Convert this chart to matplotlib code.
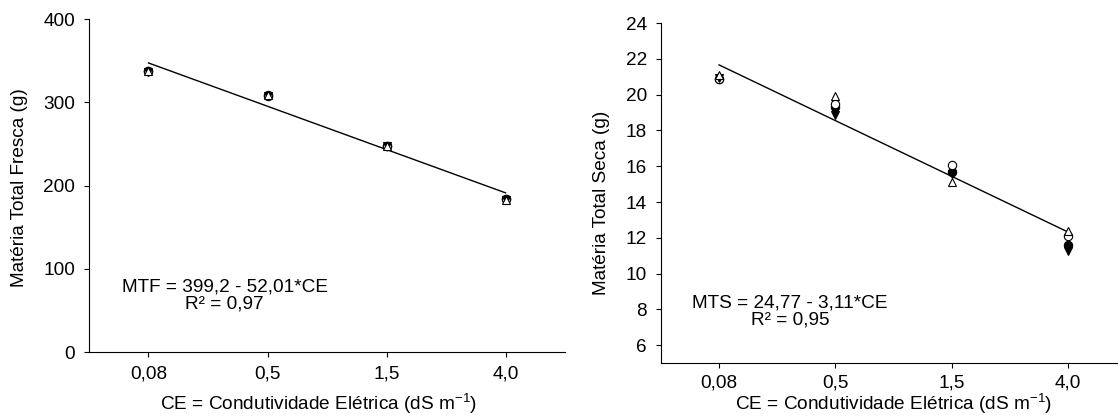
import numpy as np
import matplotlib
matplotlib.use("Agg")
import matplotlib.pyplot as plt

plt.rcParams['font.family'] = ['Liberation Sans', 'DejaVu Sans']
plt.rcParams['font.size'] = 13.7
plt.rcParams['mathtext.default'] = 'regular'

# Categories (CE levels, evenly spaced on the x axis)
ce_labels = ['0,08', '0,5', '1,5', '4,0']

# Matéria Total Fresca (g) - four treatments
mtf_circle_filled = [337, 308, 247, 184]
mtf_circle_open = [337, 309, 248, 184]
mtf_tri_down = [336, 308, 247, 183]
mtf_tri_up = [338, 309, 248, 183]
mtf_fit = [347.2, 295.2, 243.2, 191.2]

# Matéria Total Seca (g) - four treatments
mts_circle_filled = [20.9, 19.3, 15.65, 11.6]
mts_circle_open = [20.9, 19.5, 16.05, 12.1]
mts_tri_down = [20.95, 18.85, 15.55, 11.25]
mts_tri_up = [21.1, 19.95, 15.1, 12.4]
mts_fit = [21.66, 18.55, 15.44, 12.33]

x = np.arange(1, len(ce_labels) + 1)

fig = plt.figure(figsize=(11.18, 4.16), dpi=100)
ax1 = fig.add_axes([0.0796, 0.1538, 0.4258, 0.8005])
ax2 = fig.add_axes([0.5912, 0.127, 0.4159, 0.8177])


def draw_panel(ax, series, fit):
    filled_c, open_c, tri_d, tri_u = series
    ax.plot(x, fit, color='black', lw=1.0, zorder=2)
    ax.plot(x, filled_c, 'o', ms=6, mfc='black', mec='black', mew=0.8, ls='none', zorder=3)
    ax.plot(x, open_c, 'o', ms=6, mfc='white', mec='black', mew=0.8, ls='none', zorder=3)
    ax.plot(x, tri_d, 'v', ms=6, mfc='black', mec='black', mew=0.8, ls='none', zorder=3)
    ax.plot(x, tri_u, '^', ms=6, mfc='white', mec='black', mew=0.8, ls='none', zorder=3)

    ax.set_xlim(0.5, 4.5)
    ax.set_xticks(x)
    ax.set_xticklabels(ce_labels)
    for side in ['top', 'right']:
        ax.spines[side].set_visible(False)
    for side in ['left', 'bottom']:
        ax.spines[side].set_linewidth(0.8)
    ax.tick_params(direction='out', length=3.5, width=0.8, pad=6.5)
    ax.set_xlabel('CE = Condutividade Elétrica (dS m$^{-1}$)')


# Left panel - fresh matter
draw_panel(ax1, [mtf_circle_filled, mtf_circle_open, mtf_tri_down, mtf_tri_up], mtf_fit)
ax1.set_ylim(0, 400)
ax1.set_yticks([0, 100, 200, 300, 400])
ax1.set_ylabel('Matéria Total Fresca (g)')
ax1.yaxis.set_label_coords(-0.128, 0.495)
ax1.xaxis.set_label_coords(0.483, -0.12)
ax1.text(1.64, 68, 'MTF = 399,2 - 52,01*CE\nR² = 0,97', ha='center', va='center',
         linespacing=1.0)

# Right panel - dry matter
draw_panel(ax2, [mts_circle_filled, mts_circle_open, mts_tri_down, mts_tri_up], mts_fit)
ax2.set_ylim(5, 24)
ax2.set_yticks(np.arange(6, 25, 2))
ax2.tick_params(axis='x', pad=4.5)
ax2.set_ylabel('Matéria Total Seca (g)')
ax2.yaxis.set_label_coords(-0.11, 0.472)
ax2.xaxis.set_label_coords(0.5, -0.085)
ax2.text(1.61, 7.9, 'MTS = 24,77 - 3,11*CE\nR² = 0,95', ha='center', va='center',
         linespacing=1.0)

fig.savefig('out.png', dpi=100)
